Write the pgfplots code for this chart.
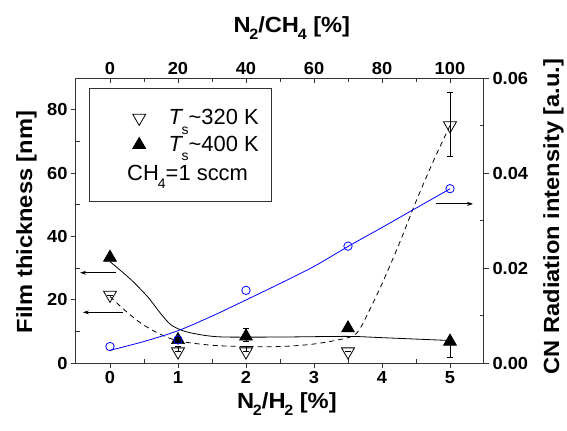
\documentclass[border=0pt]{standalone}
\usepackage{fontspec}
\setmainfont{Liberation Sans}
\newfontfamily\labfont{Liberation Sans}[FakeStretch=1.08]
\newfontfamily\tickfont{Liberation Sans}[FakeStretch=1.05]
\usepackage{pgfplots}
\pgfplotsset{compat=1.18}
\usetikzlibrary{arrows.meta}
\newcommand{\sub}[1]{\kern-0.06em\raisebox{-0.34em}{\fontsize{15}{15}\selectfont #1}}
\newcommand{\lsub}[1]{\kern-0.04em\raisebox{-0.36em}{\fontsize{14}{14}\selectfont #1}}
\newcommand{\Ts}{{\itshape T}\kern-0.02em\raisebox{-0.42em}{\fontsize{14}{14}\selectfont s}}
\pgfplotsset{common/.style={
  scale only axis, width=408bp, height=285bp, at={(0,0)}, anchor=south west,
  xmin=-0.5, xmax=5.5, ymin=0, ymax=90,
  axis line style={line width=1bp, black!80},
  tick style={line width=0.8bp, black!80},
  major tick length=5bp, minor tick length=-4bp, tick align=outside,
  ticklabel style={font=\tickfont\fontsize{17.5}{17.5}\selectfont\bfseries},
  /pgf/number format/assume math mode=true,
  label style={font=\labfont\fontsize{22}{22}\selectfont\bfseries, inner sep=0pt},
}}
\begin{document}
\begin{tikzpicture}
\useasboundingbox (-76bp,-68bp) rectangle (491bp,363bp);
\begin{axis}[common,
  xtick={0,1,2,3,4,5}, minor x tick num=1,
  ytick={0,20,40,60,80}, minor y tick num=1,
  xtick pos=bottom, ytick pos=left,
  xlabel={N\sub{2}/H\sub{2} [\%]},
  ylabel={Film thickness [nm]},
  xlabel style={at={(axis description cs:0.517,-0.158)}, anchor=base},
  ylabel style={at={(axis description cs:-0.0956,0.495)}, anchor=south},
  legend style={at={(axis description cs:0.1385,0.897)}, anchor=north west,
    draw=none, fill=none, inner xsep=0pt, inner ysep=0pt,
    font=\fontsize{22}{22}\selectfont, row sep=6bp},
  legend cell align=left,
]
% legend frame and note
\draw[black!80, line width=0.8bp, fill=white] (axis description cs:0.0319,0.965) rectangle (axis description cs:0.478,0.568);
\node[anchor=base west, inner sep=0pt, font=\fontsize{22}{22}\selectfont] at (axis description cs:0.125,0.640) {CH\lsub{4}=1 sccm};
% T ~ 320 K (open, inverted triangles)
\addplot[only marks, black, mark=triangle, mark size=7.5bp,
  mark options={rotate=180, fill=white, line width=0.8bp},
  error bars/.cd, y dir=both, y explicit,
  error bar style={line width=0.8bp},
  error mark options={rotate=90, mark size=3bp, line width=0.8bp}]
coordinates {
(0,21.5) +- (0,0)
(1,3.6) += (0,1.8) -= (0,0)
(2,3.6) += (0,1.8) -= (0,0)
(3.5,3.6) +- (0,0)
(5,75) += (0,10.3) -= (0,9.6)
};
\addlegendentry{\hspace*{21bp}\Ts\textasciitilde 320 K}
% T ~ 400 K (filled triangles)
\addplot[only marks, black, mark=triangle*, mark size=7.5bp,
  mark options={line width=0.6bp},
  error bars/.cd, y dir=both, y explicit,
  error bar style={line width=0.8bp},
  error mark options={rotate=90, mark size=3bp, line width=0.8bp}]
coordinates {
(0,33.3) +- (0,0)
(1,7.3) +- (0,0)
(2,8.4) += (0,2.6) -= (0,1.5)
(3.5,11.0) +- (0,0)
(5,6.8) += (0,0) -= (0,5.0)
};
\addlegendentry{\hspace*{21bp}\Ts\textasciitilde 400 K}
% fitted curves
\addplot[forget plot, black, line width=0.8bp, smooth, tension=0.5]
coordinates {(0,32) (0.3,26.5) (0.55,21) (0.75,15.5) (0.9,12) (1.1,10) (1.4,8.7) (1.7,8.2) (2.5,8.2) (3.5,8.4) (4,8.0) (5,7.1)};
\addplot[forget plot, black, line width=0.8bp, dashed, dash pattern=on 5bp off 4bp, smooth, tension=0.5]
coordinates {(0,21) (0.2,17) (0.44,12.8) (0.7,9.5) (1,7) (1.5,5.6) (2,5.2) (2.5,5.2) (3,6) (3.5,8) (3.65,10) (3.8,16) (4,25) (4.25,37.5) (4.5,51) (4.75,63.5) (5,75)};
\draw[-{Stealth[length=6bp,width=4bp]}, line width=0.8bp] (axis cs:0.09,28.5) -- (axis cs:-0.44,28.5);
\draw[-{Stealth[length=6bp,width=4bp]}, line width=0.8bp] (axis cs:0.19,16) -- (axis cs:-0.4,16);
\end{axis}
% top axis
\begin{axis}[common, xmin=-10, xmax=110,
  axis x line*=top, hide y axis,
  tick align=inside, minor tick length=4bp,
  xtick={0,20,40,60,80,100}, minor x tick num=1,
  xlabel={N\sub{2}/CH\sub{4} [\%]},
  xlabel style={at={(axis description cs:0.529,1.161)}, anchor=base},
]
\end{axis}
% right axis
\begin{axis}[common, ymin=0, ymax=0.06,
  axis y line*=right, hide x axis,
  ytick={0,0.02,0.04,0.06}, minor y tick num=1,
  scaled y ticks=false,
  yticklabel style={/pgf/number format/fixed, /pgf/number format/fixed zerofill, /pgf/number format/precision=2},
  ylabel={CN Radiation intensity [a.u.]},
  ylabel style={at={(axis description cs:1.196,0.514)}, anchor=south},
]
\addplot[blue, line width=0.8bp, smooth, tension=0.5]
coordinates {(0,0.00267) (0.5,0.00453) (1,0.0068) (1.5,0.00987) (2,0.01327) (2.5,0.01673) (3,0.02033) (3.5,0.02453) (4,0.02853) (4.5,0.0326) (5,0.03667)};
\addplot[only marks, blue, mark=o, mark size=4.2bp, mark options={line width=0.8bp}]
coordinates {(0,0.00347) (1,0.00487) (2,0.0153) (3.5,0.0246) (5,0.0367)};
\draw[-{Stealth[length=6bp,width=4bp]}, line width=0.8bp] (axis cs:4.79,0.0335) -- (axis cs:5.34,0.0335);
\end{axis}
\end{tikzpicture}
\end{document}
